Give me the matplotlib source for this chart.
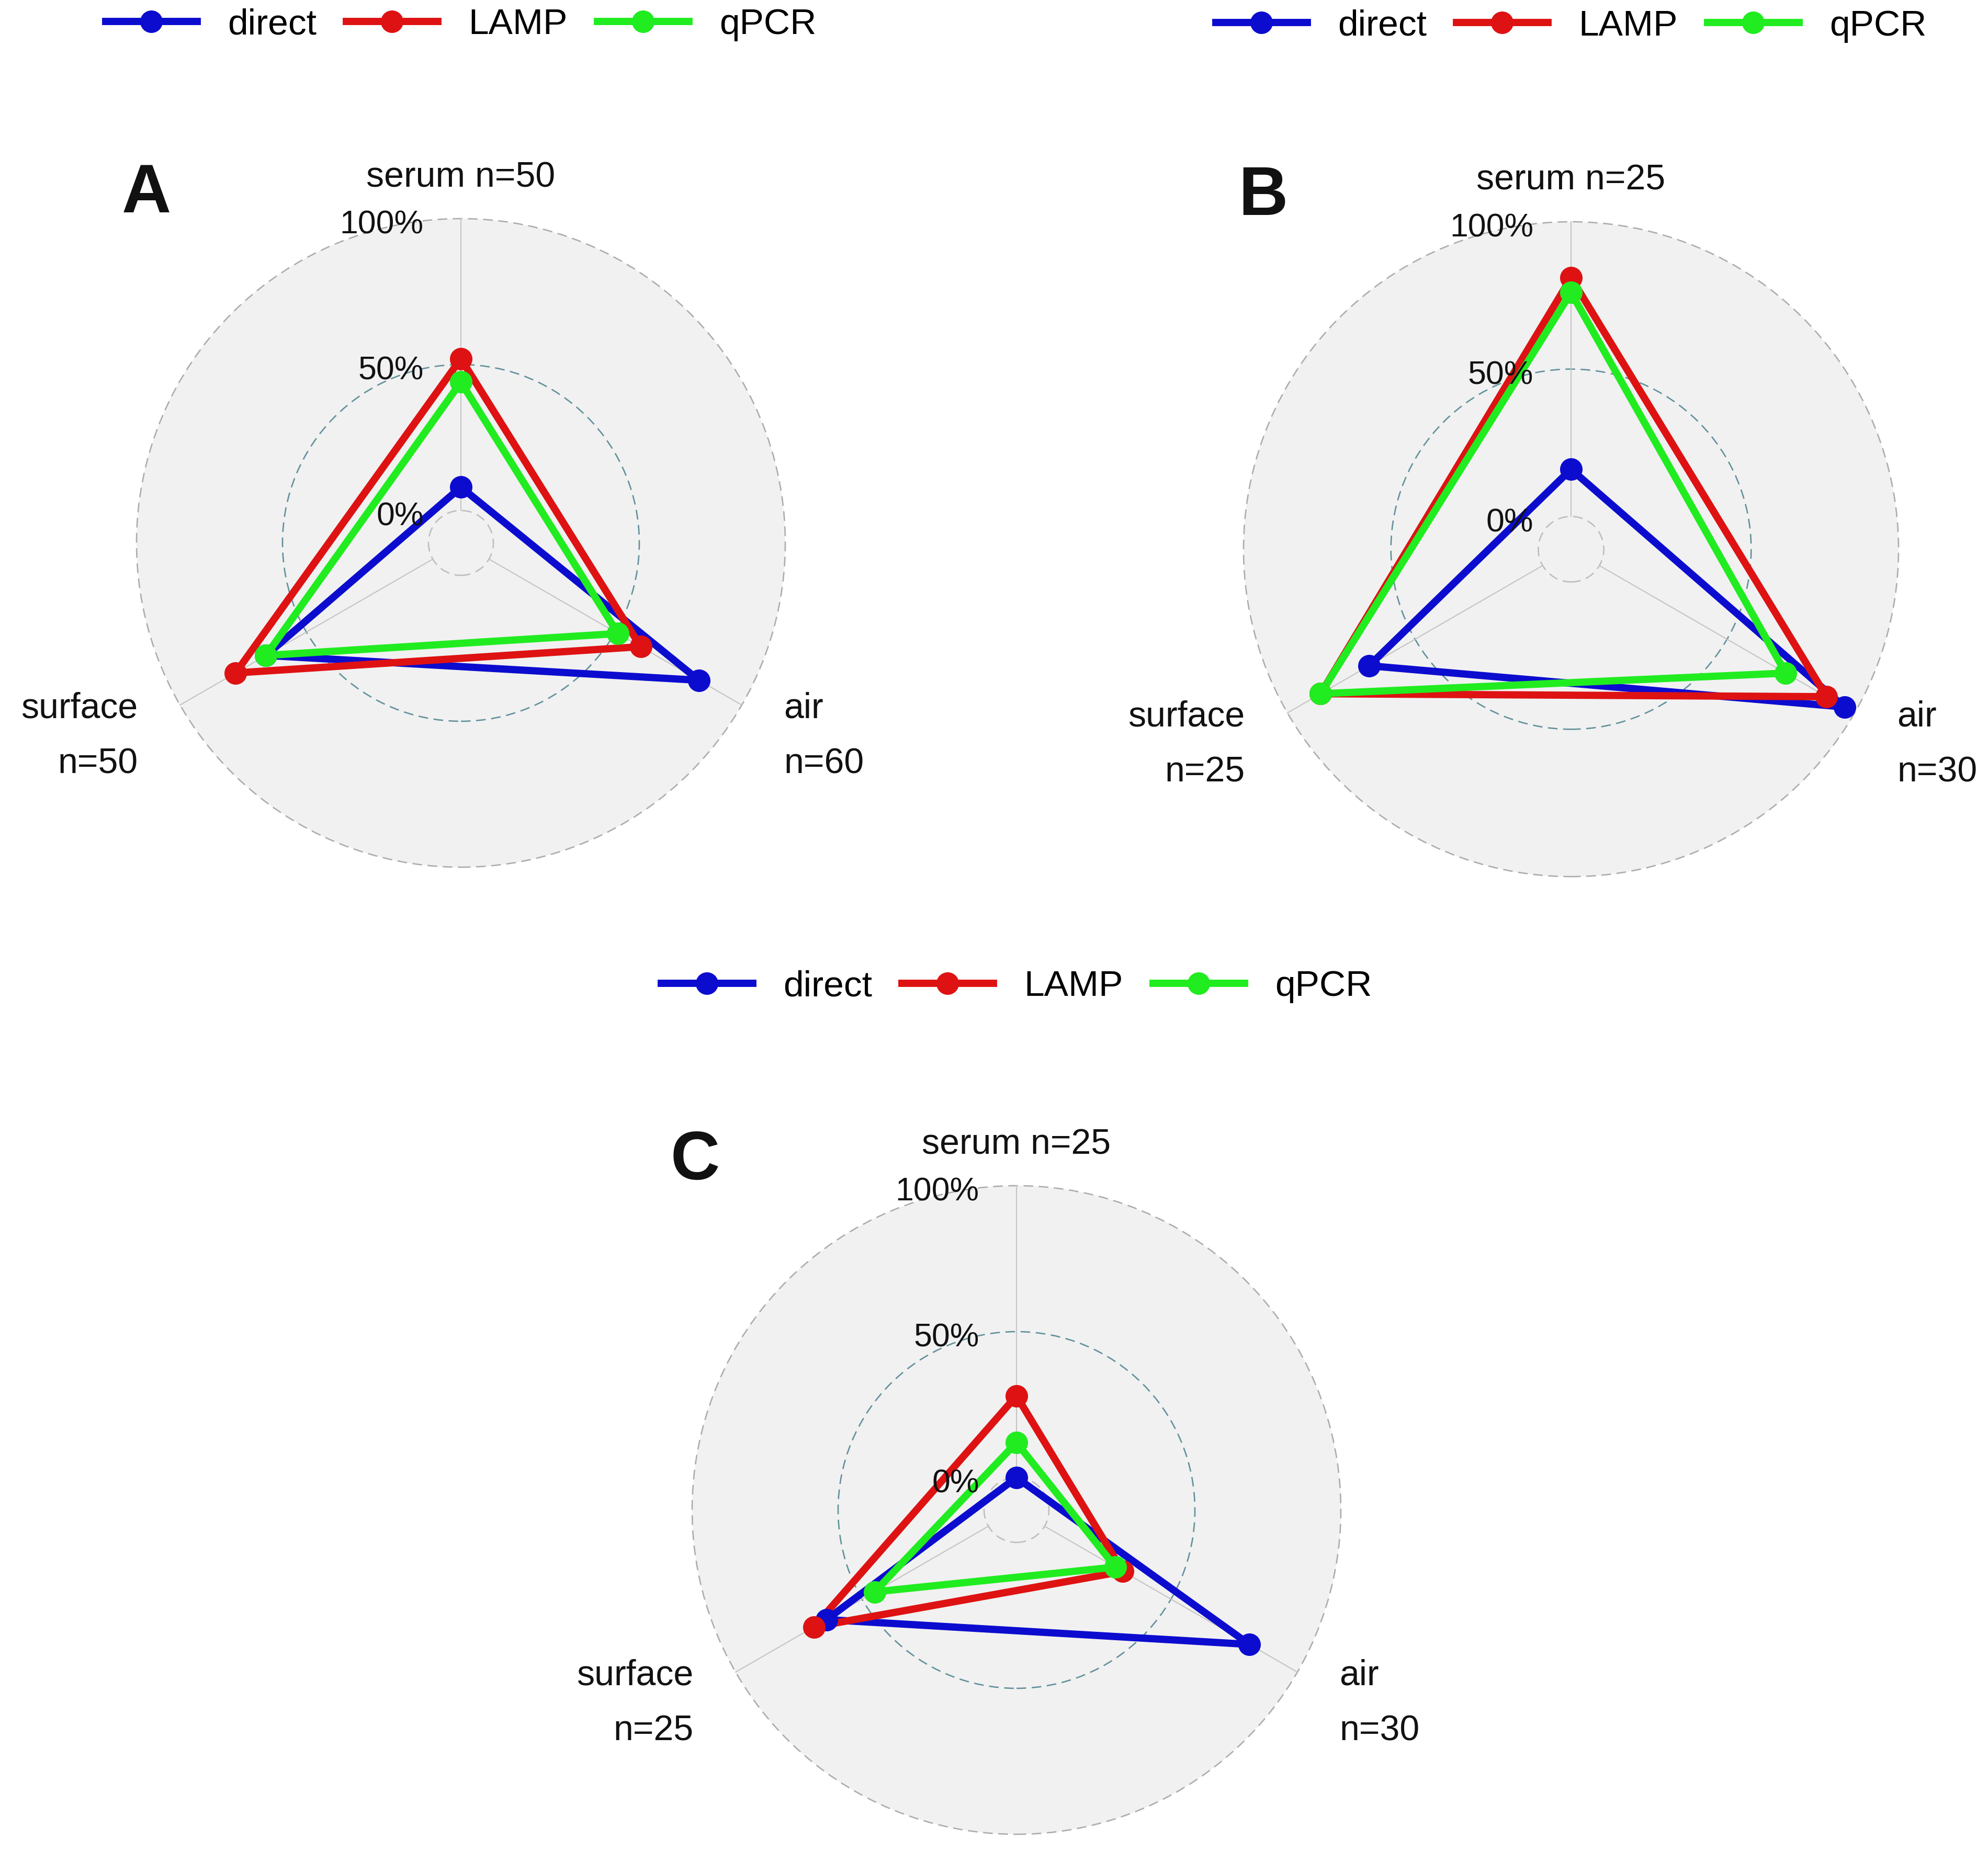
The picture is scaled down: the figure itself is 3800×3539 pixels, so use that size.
import numpy as np
import matplotlib
matplotlib.use("Agg")
import matplotlib.pyplot as plt
from matplotlib.lines import Line2D
from matplotlib.patches import Circle

plt.rcParams['font.family'] = ['Liberation Sans', 'DejaVu Sans']

# ---------------- data ----------------
categories = ['serum', 'air', 'surface']
methods = ['direct', 'LAMP', 'qPCR']

a_n = [50, 60, 50]
a_direct = [8, 83, 66]
a_lamp = [52, 60, 78]
a_qpcr = [44, 51, 66]

b_n = [25, 30, 25]
b_direct = [16, 96, 68]
b_lamp = [81, 89, 87]
b_qpcr = [76, 73, 87]

c_n = [25, 30, 25]
c_direct = [0, 81, 64]
c_lamp = [28, 31, 69]
c_qpcr = [12, 28, 45]

grid_values = [0, 50, 100]
grid_labels = ['0%', '50%', '100%']
panel_letters = ['A', 'B', 'C']

# ---------------- style / layout ----------------
colors = ['#0C0CCF', '#DE1212', '#20EC20']
W, H, DPI = 3800, 3539, 100
L = 1.6
LW = 10.0
MS = 31
panels_layout = [  # (cx px, cy px from top, R px, letter x, legend y)
    (881, 1038, 620, -0.97, 1.598),
    (3003, 1050, 626, -0.94, 1.598),
    (1943, 2887, 620, -0.99, 1.614),
]
angles = np.deg2rad([90, -30, 210])


def rad(v):
    return 0.1 + 0.9 * np.asarray(v, dtype=float) / 100.0


fig = plt.figure(figsize=(W / DPI, H / DPI), dpi=DPI)
fig.patch.set_facecolor('white')

panels = [
    (a_n, [a_direct, a_lamp, a_qpcr]),
    (b_n, [b_direct, b_lamp, b_qpcr]),
    (c_n, [c_direct, c_lamp, c_qpcr]),
]

for (ns, series), (cx, cy, R, lx, ly), letter in zip(panels, panels_layout, panel_letters):
    ax = fig.add_axes([(cx - L * R) / W, (H - cy - L * R) / H, 2 * L * R / W, 2 * L * R / H])
    ax.set_xlim(-L, L)
    ax.set_ylim(-L, L)
    ax.axis('off')

    # background disc
    r100 = rad(100)
    ax.add_patch(Circle((0, 0), r100, facecolor='#F1F1F1', edgecolor='none', zorder=0))
    # grid circles
    grid_cols = ['#BEBEBE', '#62919C', '#ADADAD']
    for gv, gc in zip(grid_values, grid_cols):
        ax.add_patch(Circle((0, 0), rad(gv), facecolor='none', edgecolor=gc,
                            lw=1.9, linestyle=(0, (7, 4)), zorder=1))
    # axis lines
    for th in angles:
        ax.plot([rad(0) * np.cos(th), r100 * np.cos(th)],
                [rad(0) * np.sin(th), r100 * np.sin(th)],
                color='#C4C4C4', lw=1.5, zorder=1)
    # grid labels
    for gv, gl in zip(grid_values, grid_labels):
        ax.text(-0.115, rad(gv) - 0.046, gl, ha='right', va='baseline',
                fontsize=45, color='#111111', zorder=6)

    # series lines
    th_closed = np.append(angles, angles[0])
    for vals, col in zip(series, colors):
        r = rad(vals + [vals[0]])
        ax.plot(r * np.cos(th_closed), r * np.sin(th_closed), color=col, lw=LW,
                solid_joinstyle='round', solid_capstyle='round', zorder=3)
    for vals, col in zip(series, colors):
        r = rad(vals)
        ax.plot(r * np.cos(angles), r * np.sin(angles), linestyle='none', marker='o',
                ms=MS, color=col, markeredgewidth=0, zorder=4)

    # axis labels
    off = 1.15 * r100
    ax.text(0, off - 0.052, f'{categories[0]} n={ns[0]}', ha='center', va='baseline',
            fontsize=49, color='#111111')
    for k, ha in ((1, 'left'), (2, 'right')):
        x = off * np.cos(angles[k])
        y = off * np.sin(angles[k])
        ax.text(x, y + 0.035, categories[k], ha=ha, va='baseline', fontsize=49, color='#111111')
        ax.text(x, y - 0.135, f'n={ns[k]}', ha=ha, va='baseline', fontsize=49, color='#111111')

    # panel letter
    ax.text(lx, 1.02, letter, ha='center', va='baseline', fontsize=94,
            fontweight='bold', color='#111111')

    # legend
    handles = [Line2D([], [], color=c, lw=LW, marker='o', ms=MS, markeredgewidth=0)
               for c in colors]
    ax.legend(handles, methods, loc='center', bbox_to_anchor=(0, ly),
              bbox_transform=ax.transData, ncol=3, frameon=False, fontsize=50,
              handlelength=2.52, handletextpad=0.84, columnspacing=0.82,
              borderpad=0, borderaxespad=0)

fig.savefig('out.png', dpi=DPI, facecolor='white')
